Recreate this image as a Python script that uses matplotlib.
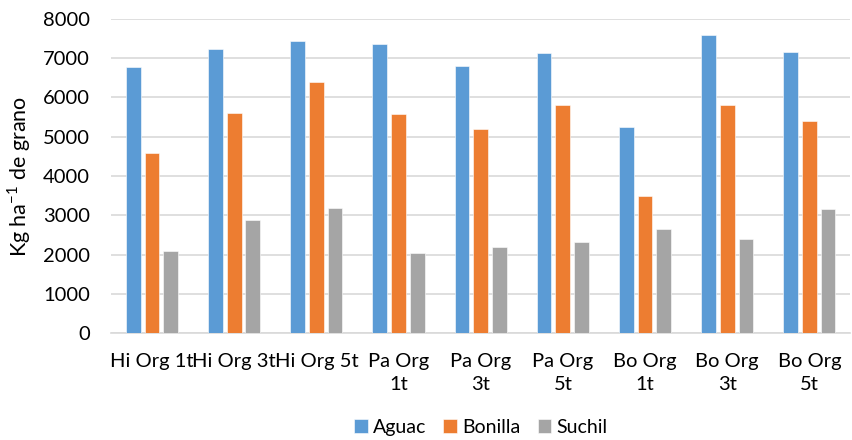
import matplotlib.pyplot as plt
import numpy as np

plt.rcParams['font.family'] = ['Lato', 'DejaVu Sans']

categories = ["Hi Org 1t", "Hi Org 3t", "Hi Org 5t", "Pa Org\n1t", "Pa Org\n3t",
              "Pa Org\n5t", "Bo Org\n1t", "Bo Org\n3t", "Bo Org\n5t"]
aguac = [6780, 7240, 7440, 7360, 6800, 7130, 5240, 7590, 7160]
bonilla = [4580, 5600, 6400, 5580, 5200, 5810, 3500, 5810, 5410]
suchil = [2090, 2880, 3180, 2030, 2190, 2310, 2650, 2390, 3170]

series = [("Aguac", aguac, '#5B9BD5'),
          ("Bonilla", bonilla, '#ED7D31'),
          ("Suchil", suchil, '#A5A5A5')]

fig = plt.figure(figsize=(8.53, 4.4), dpi=100)
ax = fig.add_axes([0.130, 0.243, 0.867, 0.714])

x = np.arange(len(categories))
step = 0.228
w = 0.18
for i, (name, vals, col) in enumerate(series):
    ax.bar(x + (i - 1) * step, vals, width=w, color=col, label=name,
           edgecolor='white', linewidth=0.4, zorder=3)

ax.set_xlim(-0.5, len(categories) - 0.5)
ax.set_ylim(0, 8000)
ax.set_yticks(range(0, 8001, 1000))
ax.yaxis.grid(True, color='#d9d9d9', linewidth=1.2, zorder=0)
for s in ['top', 'right', 'left']:
    ax.spines[s].set_visible(False)
ax.spines['bottom'].set_color('#d9d9d9')
ax.spines['bottom'].set_linewidth(1.2)
ax.tick_params(axis='both', length=0, labelsize=14.5, colors='black')
ax.tick_params(axis='x', pad=14)
ax.tick_params(axis='y', pad=15)
ax.set_xticks(x)
ax.set_xticklabels(categories, linespacing=1.45)
ax.set_ylabel("Kg ha$^{\\mathregular{-1}}$ de grano", fontsize=15.5, labelpad=7)

ax.legend(loc='center', bbox_to_anchor=(0.5, -0.30), ncol=3, frameon=False,
          fontsize=14, handlelength=0.7, handleheight=0.7, handletextpad=0.25,
          columnspacing=0.9)

fig.savefig("out.png", dpi=100)
